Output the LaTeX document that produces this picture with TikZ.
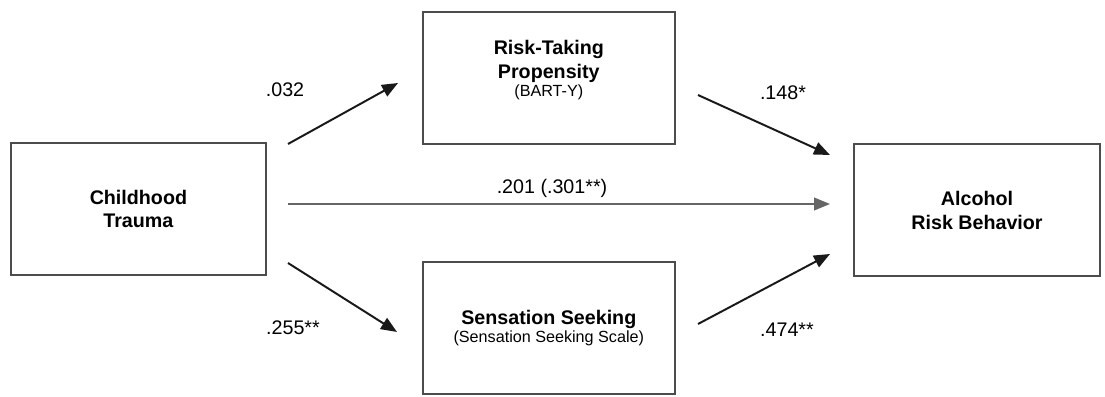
\documentclass[tikz,border=0pt]{standalone}
\usepackage{fontspec}
\setmainfont{Liberation Sans}
\usetikzlibrary{arrows.meta}

% smaller line under a construct name
\newcommand{\instr}[1]{{\fontsize{11.5}{13}\selectfont\mdseries #1}}

\begin{document}
\begin{tikzpicture}[
  every node/.style={inner sep=0pt},
  construct/.style={draw=black!70, line width=1.4pt, minimum width=6.3cm, minimum height=3.3cm,
    align=center, font=\fontsize{14}{17}\selectfont\bfseries},
  effect/.style={draw=black!90, line width=1.4pt, -{Triangle[length=0.4cm,width=0.32cm]}},
  direct/.style={effect, draw=black!60, line width=1.1pt},
  coef/.style={font=\fontsize{14}{16}\selectfont}
  ]
	\useasboundingbox (0,0) rectangle (27.625,9.9);

	\node[construct, minimum width=6.375cm] (trauma) at (3.46,4.675) {Childhood\\Trauma};
	\node[construct] (risk) at (13.72,7.96) {Risk-Taking\\Propensity\\[-4pt]\instr{(BART-Y)}\\[-4pt]\mbox{}};
	\node[construct] (seeking) at (13.72,1.69) {Sensation Seeking\\[-4pt]\instr{(Sensation Seeking Scale)}};
	\node[construct, minimum width=6.15cm] (alcohol) at (24.425,4.64) {Alcohol\\Risk Behavior};

	% arrow ends, kept clear of the boxes
	\coordinate (a-out) at (7.2,6.3);
	\coordinate (a-in) at (9.95,7.825);
	\coordinate (b-out) at (17.45,7.525);
	\coordinate (b-in) at (20.75,6.025);
	\coordinate (c-out) at (7.2,3.325);
	\coordinate (c-in) at (9.925,1.6);
	\coordinate (d-out) at (17.45,1.8);
	\coordinate (d-in) at (20.75,3.55);
	\coordinate (m-out) at (7.2,4.8);
	\coordinate (m-in) at (20.75,4.8);

	\draw[effect] (a-out) -- (a-in);
	\draw[effect] (b-out) -- (b-in);
	\draw[effect] (c-out) -- (c-in);
	\draw[effect] (d-out) -- (d-in);
	\draw[direct] (m-out) -- (m-in);

	\node[coef] (a-coef) at (7.125,7.65) {.032};
	\node[coef] (b-coef) at (19.575,7.575) {.148*};
	\node[coef] (c-coef) at (7.325,1.7) {.255**};
	\node[coef] (d-coef) at (19.675,1.65) {.474**};
	\node[coef] (m-coef) at (13.8,5.2) {.201 (.301**)};
\end{tikzpicture}
\end{document}
